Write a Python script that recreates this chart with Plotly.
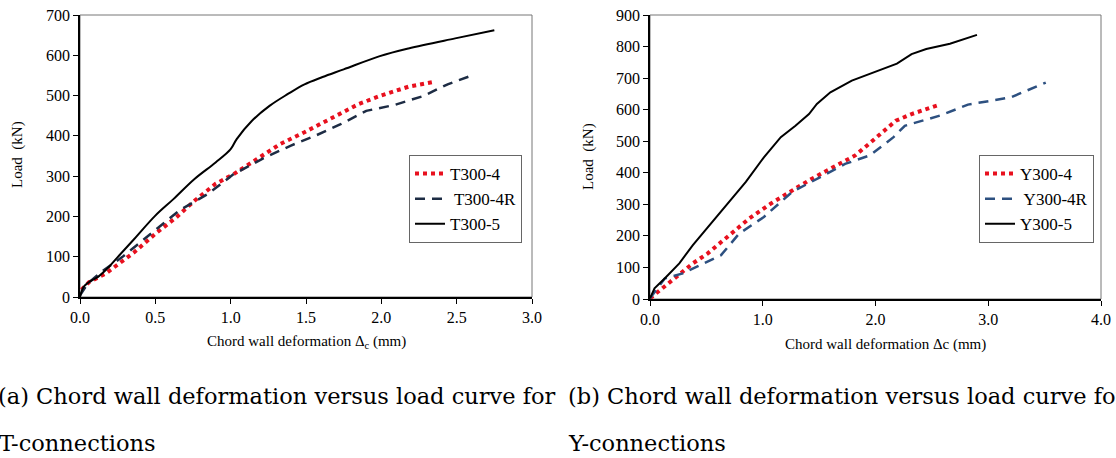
import plotly.graph_objects as go

# ---- data ----
t4_x = [0.01, 0.06, 0.17, 0.26, 0.36, 0.50, 0.64, 0.76, 0.90, 1.02, 1.16, 1.33, 1.49, 1.66, 1.85, 1.99, 2.18, 2.35]
t4_y = [18, 37, 58, 83, 111, 157, 198, 239, 281, 305, 338, 380, 409, 442, 479, 499, 522, 534]
t4r_x = [0.0, 0.05, 0.14, 0.28, 0.47, 0.66, 0.85, 1.02, 1.21, 1.40, 1.56, 1.73, 1.90, 2.09, 2.28, 2.44, 2.61]
t4r_y = [4, 33, 62, 99, 157, 215, 256, 305, 343, 376, 400, 429, 462, 477, 499, 528, 551]
t5_x = [0.0, 0.024, 0.06, 0.12, 0.19, 0.26, 0.36, 0.50, 0.62, 0.76, 0.90, 1.0, 1.04, 1.14, 1.26, 1.38, 1.49, 1.61, 1.75, 1.99, 2.18, 2.49, 2.75]
t5_y = [0, 25, 37, 50, 74, 103, 144, 202, 243, 293, 334, 367, 392, 437, 475, 504, 528, 546, 565, 598, 617, 642, 662]

y4_x = [0.0, 0.06, 0.24, 0.38, 0.51, 0.69, 0.88, 1.07, 1.26, 1.41, 1.60, 1.82, 1.95, 2.04, 2.18, 2.32, 2.57]
y4_y = [2, 20, 73, 113, 144, 199, 255, 302, 344, 376, 413, 455, 494, 523, 565, 586, 616]
y4r_x = [0.0, 0.13, 0.29, 0.48, 0.63, 0.79, 1.01, 1.26, 1.51, 1.73, 1.95, 2.16, 2.26, 2.57, 2.82, 3.20, 3.51]
y4r_y = [2, 65, 81, 113, 139, 207, 260, 339, 386, 428, 455, 513, 549, 581, 616, 639, 686]
y5_x = [0.0, 0.04, 0.13, 0.26, 0.38, 0.54, 0.69, 0.85, 1.01, 1.16, 1.29, 1.41, 1.48, 1.60, 1.79, 1.98, 2.19, 2.32, 2.45, 2.66, 2.90]
y5_y = [2, 34, 65, 113, 171, 239, 302, 371, 449, 513, 549, 586, 618, 655, 692, 718, 746, 776, 792, 809, 837]

left_xticks = [0.0, 0.5, 1.0, 1.5, 2.0, 2.5, 3.0]
left_yticks = [0, 100, 200, 300, 400, 500, 600, 700]
right_xticks = [0.0, 1.0, 2.0, 3.0, 4.0]
right_yticks = [0, 100, 200, 300, 400, 500, 600, 700, 800, 900]

RED = "#e8101e"
NAVY_L = "#1d2c44"
NAVY_R = "#2d5080"
SERIF = "Liberation Serif, Times New Roman, serif"
CAP = "DejaVu Serif, serif"

fig = go.Figure()
fig.add_trace(go.Scatter(x=t4_x, y=t4_y, name="T300-4", mode="lines",
                         line=dict(color=RED, width=4, dash="4px,4px"),
                         xaxis="x", yaxis="y", legend="legend"))
fig.add_trace(go.Scatter(x=t4r_x, y=t4r_y, name=" T300-4R", mode="lines",
                         line=dict(color=NAVY_L, width=2.5, dash="10px,7px"),
                         xaxis="x", yaxis="y", legend="legend"))
fig.add_trace(go.Scatter(x=t5_x, y=t5_y, name="T300-5", mode="lines", line_shape="spline",
                         line=dict(color="black", width=2),
                         xaxis="x", yaxis="y", legend="legend"))

fig.add_trace(go.Scatter(x=y4_x, y=y4_y, name="Y300-4", mode="lines",
                         line=dict(color=RED, width=4, dash="4px,4px"),
                         xaxis="x2", yaxis="y2", legend="legend2"))
fig.add_trace(go.Scatter(x=y4r_x, y=y4r_y, name=" Y300-4R", mode="lines",
                         line=dict(color=NAVY_R, width=2.5, dash="10px,7px"),
                         xaxis="x2", yaxis="y2", legend="legend2"))
fig.add_trace(go.Scatter(x=y5_x, y=y5_y, name="Y300-5", mode="lines",
                         line=dict(color="black", width=2),
                         xaxis="x2", yaxis="y2", legend="legend2"))

W, H = 1116, 458
def px(v): return v / W
def py(v): return 1 - v / H

ax_common = dict(showgrid=False, zeroline=False, showline=True, linecolor="black", linewidth=1.5,
                 ticks="outside", ticklen=5, tickcolor="black", automargin=False,
                 tickfont=dict(family=SERIF, size=16, color="black"))

fig.update_layout(
    width=W, height=H, margin=dict(l=0, r=0, t=0, b=0, autoexpand=False), autosize=False,
    paper_bgcolor="white", plot_bgcolor="white",
    xaxis=dict(ax_common, domain=[px(80), px(532)], range=[0, 3.0], tickvals=left_xticks,
               ticktext=[f"{v:.1f}" for v in left_xticks], anchor="y"),
    yaxis=dict(ax_common, domain=[py(297), py(15)], range=[0, 700], tickvals=left_yticks, anchor="x"),
    xaxis2=dict(ax_common, domain=[px(650), px(1101)], range=[0, 4.0], tickvals=right_xticks,
                ticktext=[f"{v:.1f}" for v in right_xticks], anchor="y2"),
    yaxis2=dict(ax_common, domain=[py(299), py(15)], range=[0, 900], tickvals=right_yticks, anchor="x2"),
    legend=dict(x=px(409), y=py(155), xanchor="left", yanchor="top", bgcolor="white",
                bordercolor="#666", borderwidth=1, font=dict(family=SERIF, size=17, color="black"),
                itemwidth=30, tracegroupgap=0),
    legend2=dict(x=px(979), y=py(155), xanchor="left", yanchor="top", bgcolor="white",
                 bordercolor="#666", borderwidth=1, font=dict(family=SERIF, size=17, color="black"),
                 itemwidth=30, tracegroupgap=0),
    showlegend=True,
)

# gray frame (top/right)
fig.add_shape(type="rect", xref="x domain", yref="y domain", x0=0, x1=1, y0=0, y1=1,
              line=dict(color="#777", width=1), layer="below")
fig.add_shape(type="rect", xref="x2 domain", yref="y2 domain", x0=0, x1=1, y0=0, y1=1,
              line=dict(color="#777", width=1), layer="below")

ann = []
ann.append(dict(text="Load  (kN)", x=px(18), y=py(155), textangle=-90,
                font=dict(family=SERIF, size=15, color="black")))
ann.append(dict(text="Load  (kN)", x=px(588), y=py(157), textangle=-90,
                font=dict(family=SERIF, size=15, color="black")))
ann.append(dict(text="Chord wall deformation Δ<sub>c</sub> (mm)", x=px(306), y=py(342),
                font=dict(family=SERIF, size=15, color="black")))
ann.append(dict(text="Chord wall deformation Δc (mm)", x=px(885), y=py(344),
                font=dict(family=SERIF, size=15, color="black")))
ann.append(dict(text="(a) Chord wall deformation versus load curve for", x=px(-4), y=py(396),
                xanchor="left", font=dict(family=CAP, size=22.5, color="black")))
ann.append(dict(text="T-connections", x=px(-3), y=py(443),
                xanchor="left", font=dict(family=CAP, size=22.5, color="black")))
ann.append(dict(text="(b) Chord wall deformation versus load curve for", x=px(566), y=py(396),
                xanchor="left", font=dict(family=CAP, size=22.5, color="black")))
ann.append(dict(text="Y-connections", x=px(566), y=py(443),
                xanchor="left", font=dict(family=CAP, size=22.5, color="black")))
for a in ann:
    a.setdefault("xanchor", "center")
    a.update(xref="paper", yref="paper", yanchor="middle", showarrow=False)
fig.update_layout(annotations=ann)

fig.write_html("out.html", config={"displayModeBar": False},
               post_script="document.body.style.margin='0';document.body.style.overflow='hidden';")
